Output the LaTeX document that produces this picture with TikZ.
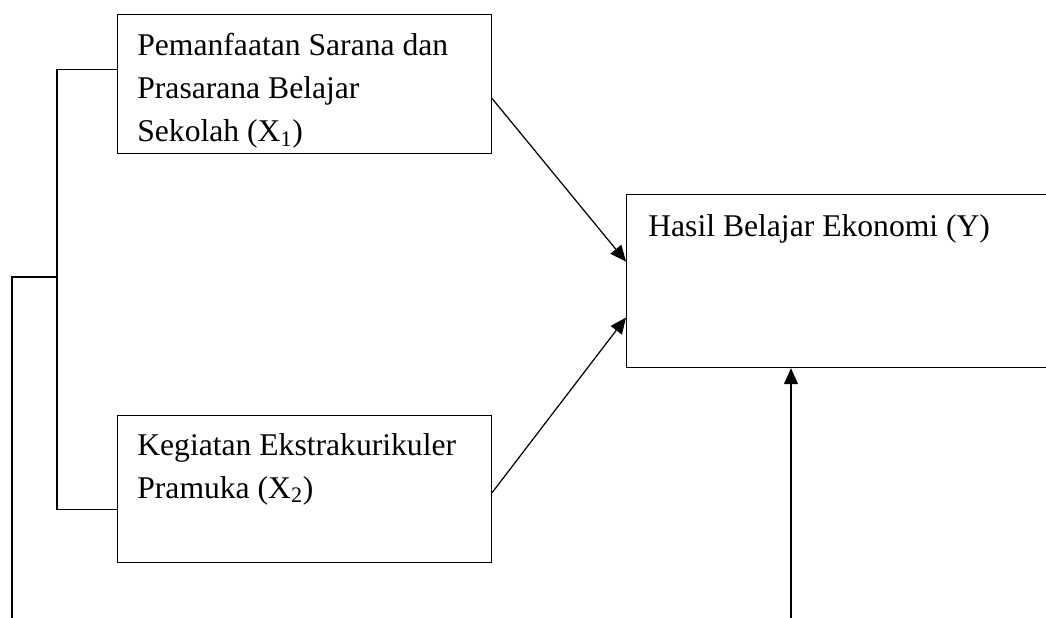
\documentclass[tikz,border=0pt]{standalone}
\usepackage{fontspec}
\setmainfont{Liberation Serif}
\usetikzlibrary{positioning,arrows.meta}

\tikzset{
  varbox/.style={draw, line width=0.7pt, anchor=north west, inner sep=0pt},
  vartext/.style={anchor=north west, inner sep=0pt, align=left,
    font=\fontsize{18}{24.5}\selectfont},
  link/.style={line width=0.7pt},
  effect/.style={line width=0.7pt, -{Triangle[length=0.32cm,width=0.28cm]}}
}

\begin{document}
\begin{tikzpicture}[x=0.02cm, y=-0.02cm]
\useasboundingbox (0,0) rectangle (1046,618);
\node[varbox, minimum width=7.48cm, minimum height=2.78cm] (x1) at (117,14) {};
\node[varbox, minimum width=7.48cm, minimum height=2.94cm] (x2) at (117,415) {};
\node[varbox, minimum width=8.7cm, minimum height=3.46cm] (y) at (626,194) {};
\node[vartext, below right=0.38cm and 0.4cm of x1.north west] (x1text) {Pemanfaatan Sarana dan\\Prasarana Belajar\\Sekolah (X\textsubscript{1})};
\node[vartext, below right=0.36cm and 0.4cm of x2.north west] (x2text) {Kegiatan Ekstrakurikuler\\Pramuka (X\textsubscript{2})};
\node[vartext, below right=0.4cm and 0.44cm of y.north west] (ytext) {Hasil Belajar Ekonomi (Y)};
\coordinate (jn) at (57,277);
\coordinate (out) at (12,630);
\coordinate (in) at (791,630);
\draw[link] ([yshift=0.29cm]x1.west) -| (jn) |- ([yshift=-0.41cm]x2.west);
\draw[link] (jn) -| (out);
\draw[effect] ([yshift=-0.29cm]x1.east) -- ([yshift=0.39cm]y.west);
\draw[effect] ([yshift=-0.07cm]x2.east) -- ([yshift=-0.73cm]y.west);
\draw[effect] (in) -- (in |- y.south);
\end{tikzpicture}
\end{document}
